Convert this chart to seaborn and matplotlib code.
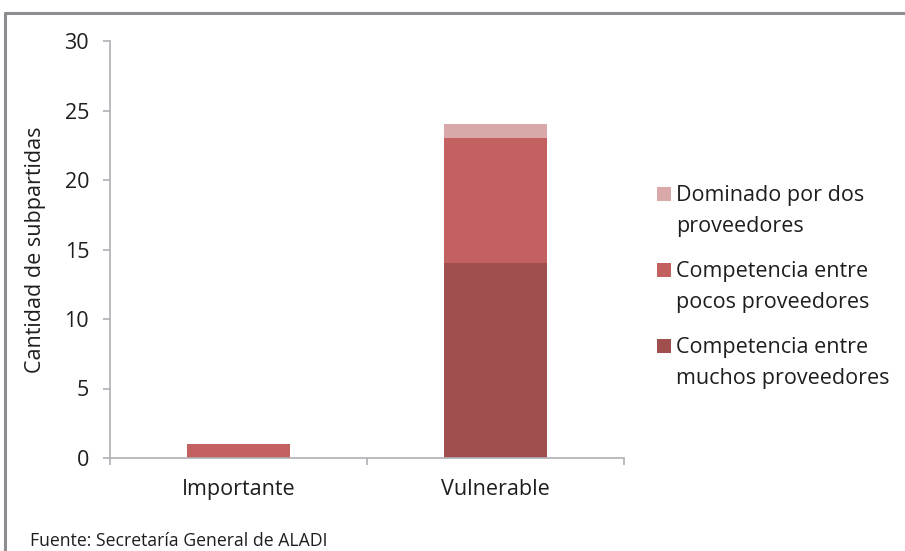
import matplotlib
matplotlib.use("Agg")
import matplotlib.pyplot as plt
from matplotlib.lines import Line2D
from matplotlib.patches import Rectangle
import seaborn as sns
import pandas as pd
import numpy as np

categories = ["Importante", "Vulnerable"]
series = ["Competencia entre\nmuchos proveedores",
          "Competencia entre\npocos proveedores",
          "Dominado por dos\nproveedores"]
muchos = [0, 14]
pocos = [1, 9]
dominado = [0, 1]
colors = ["#A04E4E", "#C26160", "#D9A9AA"]
yticks = [0, 5, 10, 15, 20, 25, 30]

sns.set_theme(style="white")
plt.rcParams["font.family"] = ["Open Sans", "DejaVu Sans"]

W, H = 905, 551
vals = np.array([muchos, pocos, dominado], dtype=float)
cum = np.cumsum(vals, axis=0)

fig = plt.figure(figsize=(W / 100, H / 100), dpi=100)
ax = fig.add_axes([110 / W, 1 - 458 / H, 514 / W, 417 / H])

# draw cumulative totals, tallest first
for i in range(len(series) - 1, -1, -1):
    df = pd.DataFrame({"cat": categories, "val": cum[i]})
    sns.barplot(data=df, x="cat", y="val", color=colors[i], width=0.4,
                saturation=1, ax=ax, linewidth=0, errorbar=None)

TXT = "#1E1E1E"
FS = 15.5
ax.set_xlim(-0.5, 1.5)
ax.set_ylim(0, 30)
ax.set_yticks(yticks)
ax.set_yticklabels([str(t) for t in yticks], fontsize=FS, color=TXT)
ax.set_xticks([-0.5, 0.5, 1.5])
ax.set_xticklabels([])
ax.set_xticks([0, 1], minor=True)
ax.set_xticklabels(categories, minor=True, fontsize=FS, color=TXT)
ax.tick_params(axis="x", which="major", direction="out", length=5, width=1.2,
               color="#B0B0B5", bottom=True)
ax.tick_params(axis="x", which="minor", length=0, pad=15, bottom=True)
ax.tick_params(axis="y", direction="out", length=5, width=1.2, color="#B0B0B5",
               left=True, pad=10)
ax.set_xlabel("")
ax.set_ylabel("Cantidad de subpartidas", fontsize=FS, color=TXT)
ax.yaxis.set_label_coords(-0.124, 0.5)
for s in ["top", "right"]:
    ax.spines[s].set_visible(False)
for s in ["left", "bottom"]:
    ax.spines[s].set_color("#B0B0B5")
    ax.spines[s].set_linewidth(1.2)
ax.grid(False)

# legend (drawn manually, patch aligned with first line as in the reference)
order = [2, 1, 0]
for k, i in enumerate(order):
    base = 201 + 76 * k
    fig.add_artist(Rectangle((657 / W, 1 - base / H), 14 / W, 14 / H,
                             transform=fig.transFigure, facecolor=colors[i],
                             edgecolor="none"))
    for j, line in enumerate(series[i].split("\n")):
        fig.text(676 / W, 1 - (base + 31 * j) / H, line, fontsize=FS,
                 color=TXT, ha="left", va="baseline")

fig.text(30 / W, 1 - 546 / H, "Fuente: Secretaría General de ALADI", fontsize=12.7,
         color=TXT, ha="left", va="baseline")

# outer frame (top and left)
fig.add_artist(Line2D([5 / W, 1.0], [1 - 12.5 / H, 1 - 12.5 / H],
                      transform=fig.transFigure, color="#8C8C91", linewidth=2.2))
fig.add_artist(Line2D([5 / W, 5 / W], [0.0, 1 - 12.5 / H],
                      transform=fig.transFigure, color="#8C8C91", linewidth=2.2))

fig.savefig("out.png", dpi=100)
